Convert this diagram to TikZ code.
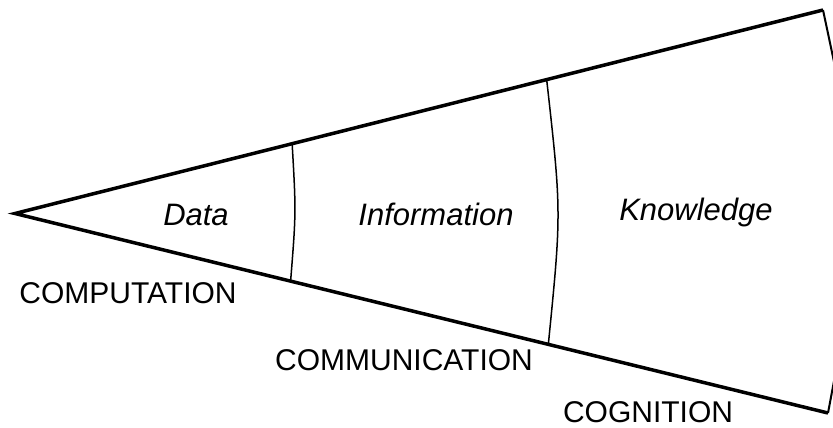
\documentclass[tikz,border=0pt]{standalone}
\usepackage{fontspec}
\newfontfamily\labelfont{Liberation Sans}
\usetikzlibrary{calc}
\tikzset{ray/.style={line width=3.5pt}}
\tikzset{bound/.style={line width=1.5pt}}
\tikzset{stage/.style={inner sep=0pt, anchor=base, font=\labelfont\itshape\fontsize{31}{31}\selectfont}}
\tikzset{phase/.style={inner sep=0pt, anchor=base, font=\labelfont\fontsize{30}{30}\selectfont}}

\begin{document}
\begin{tikzpicture}[x=1pt, y=-1pt]
    \useasboundingbox (0, 0) rectangle (833, 428);

    \coordinate (apex) at (15, 213.5);
    \coordinate (utip) at (823, 10);
    \coordinate (ltip) at (828, 413);
    \coordinate (u1) at ($(apex)!0.343!(utip)$);
    \coordinate (l1) at ($(apex)!0.339!(ltip)$);
    \coordinate (u2) at ($(apex)!0.658!(utip)$);
    \coordinate (l2) at ($(apex)!0.656!(ltip)$);

    \draw[ray] (utip) -- (apex) -- (ltip);
    % the stage borders bulge a little to the right
    \draw[bound] (u1) .. controls ($(u1)!0.5!(l1)+(4.7,0)$) .. (l1);
    \draw[bound] (u2) .. controls ($(u2)!0.5!(l2)+(14,0)$) .. (l2);
    \begin{scope}
        \clip (0, 0) rectangle (833, 428);
        \draw[line width=2pt] (utip) .. controls (866, 211.5) .. (ltip);
    \end{scope}

    \node[stage] (data) at (196, 225) {Data};
    \node[stage] (info) at (436, 225) {Information};
    \node[stage] (know) at (696, 220) {Knowledge};

    \node[phase] (comp) at (128, 303) {COMPUTATION};
    \node[phase] (comm) at (404, 370) {COMMUNICATION};
    \node[phase] (cogn) at (648, 422) {COGNITION};
\end{tikzpicture}
\end{document}
